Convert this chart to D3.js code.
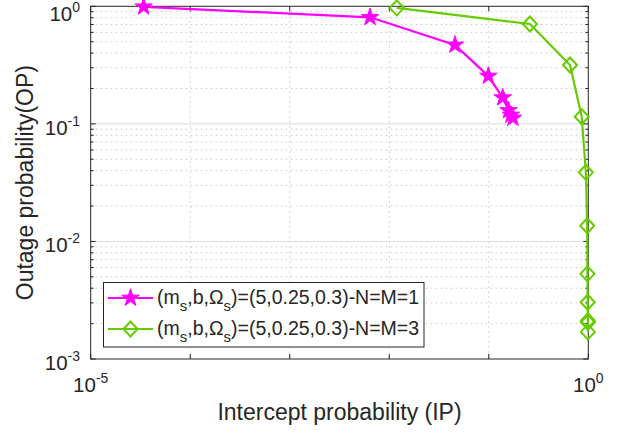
<!DOCTYPE html>
<html>
<head>
<meta charset="utf-8">
<script src="https://cdn.jsdelivr.net/npm/d3@7"></script>
<style>
html,body{margin:0;padding:0;background:#fff;}
svg{display:block;font-family:"Liberation Sans",Arial,Helvetica,sans-serif;}
</style>
</head>
<body>
<svg id="chart" width="621" height="436"></svg>
<script>
// ---- data ----
const ipSeries1 = [3.4e-5, 6.4e-3, 0.0457, 0.099, 0.138, 0.158, 0.167, 0.175];
const opSeries1 = [0.99, 0.806, 0.469, 0.255, 0.167, 0.130, 0.119, 0.112];
const ipSeries3 = [0.0119, 0.259, 0.655, 0.859, 0.945, 0.975, 0.980, 0.985, 0.990, 0.990, 0.990];
const opSeries3 = [0.97, 0.707, 0.317, 0.115, 0.0387, 0.0136, 0.0053, 0.00304, 0.00212, 0.00205, 0.0017];
const xTickExps = [-5, 0];
const xGridExps = [-5, -4, -3, -2, -1, 0];
const yTickExps = [0, -1, -2, -3];
const legendLabels = ["=(5,0.25,0.3)-N=M=1", "=(5,0.25,0.3)-N=M=3"];
const xLabel = "Intercept probability (IP)";
const yLabel = "Outage probability(OP)";

const colMag = "#ff00ff", colGreen = "#66cc00", axisCol = "#262626";

const svg = d3.select("#chart");
const L = 90.7, R = 588.3, T = 6.3, B = 359;
const x = d3.scaleLog().domain([1e-5, 1]).range([L, R]);
const y = d3.scaleLog().domain([1e-3, 1]).range([B, T]);

// grid
const g = svg.append("g");
const yMinor = [];
for (let e = -3; e < 0; e++) for (let m = 2; m <= 9; m++) yMinor.push(m * Math.pow(10, e));
g.selectAll(".ymin").data(yMinor).enter().append("line")
  .attr("x1", L).attr("x2", R).attr("y1", d => y(d)).attr("y2", d => y(d))
  .attr("stroke", "#c8c8c8").attr("stroke-width", 1).attr("stroke-dasharray", "1.5,3.5");
g.selectAll(".ymaj").data(yTickExps.filter(e => e > -3 && e < 0)).enter().append("line")
  .attr("x1", L).attr("x2", R).attr("y1", d => y(Math.pow(10, d))).attr("y2", d => y(Math.pow(10, d)))
  .attr("stroke", "#dcdcdc").attr("stroke-width", 1);
g.selectAll(".xmaj").data(xGridExps.filter(e => e > -5 && e < 0)).enter().append("line")
  .attr("x1", d => x(Math.pow(10, d))).attr("x2", d => x(Math.pow(10, d))).attr("y1", T).attr("y2", B)
  .attr("stroke", "#c8c8c8").attr("stroke-width", 1).attr("stroke-dasharray", "1.5,3.5");

// axes box & ticks
const ax = svg.append("g").attr("stroke", axisCol).attr("fill", "none");
ax.append("rect").attr("x", L).attr("y", T).attr("width", R - L).attr("height", B - T).attr("stroke-width", 1);
xGridExps.forEach(e => {
  const px = x(Math.pow(10, e));
  ax.append("line").attr("x1", px).attr("x2", px).attr("y1", B).attr("y2", B - 5);
  ax.append("line").attr("x1", px).attr("x2", px).attr("y1", T).attr("y2", T + 5);
});
yTickExps.forEach(e => {
  const py = y(Math.pow(10, e));
  ax.append("line").attr("x1", L).attr("x2", L + 5).attr("y1", py).attr("y2", py);
  ax.append("line").attr("x1", R).attr("x2", R - 5).attr("y1", py).attr("y2", py);
});
yMinor.forEach(v => {
  const py = y(v);
  ax.append("line").attr("x1", L).attr("x2", L + 3).attr("y1", py).attr("y2", py);
  ax.append("line").attr("x1", R).attr("x2", R - 3).attr("y1", py).attr("y2", py);
});

// tick labels
function powLabel(sel, e) {
  sel.append("tspan").text("10");
  sel.append("tspan").attr("dy", -9).attr("font-size", 14).text(String(e));
}
xTickExps.forEach(e => {
  const t = svg.append("text").attr("x", x(Math.pow(10, e))).attr("y", 392)
    .attr("text-anchor", "middle").attr("font-size", 20.5).attr("fill", axisCol);
  powLabel(t, e);
});
yTickExps.forEach(e => {
  const t = svg.append("text").attr("x", 80).attr("y", Math.max(20.5, y(Math.pow(10, e)) + 11))
    .attr("text-anchor", "end").attr("font-size", 20.5).attr("fill", axisCol);
  powLabel(t, e);
});

// axis labels
svg.append("text").attr("x", (L + R) / 2).attr("y", 420).attr("text-anchor", "middle")
  .attr("font-size", 23).attr("fill", axisCol).text(xLabel);
svg.append("text").attr("transform", `translate(33,${(T + B) / 2}) rotate(-90)`).attr("text-anchor", "middle")
  .attr("font-size", 23).attr("fill", axisCol).text(yLabel);

// series
const line = d3.line().x(d => x(d[0])).y(d => y(d[1]));
const d1 = ipSeries1.map((v, i) => [v, opSeries1[i]]);
const d3s = ipSeries3.map((v, i) => [v, opSeries3[i]]);
const starPath = d3.symbol(d3.symbolStar, 95)();
const diamondPath = "M0,-7.5L7,0L0,7.5L-7,0Z";

svg.append("path").datum(d1).attr("d", line).attr("fill", "none").attr("stroke", colMag).attr("stroke-width", 2.2);
svg.selectAll(".s1").data(d1).enter().append("path").attr("d", starPath)
  .attr("transform", d => `translate(${x(d[0])},${y(d[1])})`).attr("fill", colMag).attr("stroke", colMag).attr("stroke-width", 1);

svg.append("path").datum(d3s).attr("d", line).attr("fill", "none").attr("stroke", colGreen).attr("stroke-width", 2.2);
svg.selectAll(".s3").data(d3s).enter().append("path").attr("d", diamondPath)
  .attr("transform", d => `translate(${x(d[0])},${y(d[1])})`).attr("fill", "none").attr("stroke", colGreen).attr("stroke-width", 2);

// legend
const lg = svg.append("g");
lg.append("rect").attr("x", 103.5).attr("y", 282.5).attr("width", 320.5).attr("height", 64.5)
  .attr("fill", "#fff").attr("stroke", axisCol).attr("stroke-width", 1);
const rows = [
  { c: colMag, m: starPath, fill: colMag, yy: 298, label: legendLabels[0] },
  { c: colGreen, m: diamondPath, fill: "none", yy: 329, label: legendLabels[1] }
];
rows.forEach(r => {
  lg.append("line").attr("x1", 108).attr("x2", 153).attr("y1", r.yy).attr("y2", r.yy).attr("stroke", r.c).attr("stroke-width", 2.2);
  lg.append("path").attr("d", r.m).attr("transform", `translate(130.5,${r.yy})`)
    .attr("fill", r.fill).attr("stroke", r.c).attr("stroke-width", r.fill === "none" ? 2 : 1);
  const t = lg.append("text").attr("x", 157).attr("y", r.yy + 6).attr("font-size", 19.5).attr("fill", axisCol);
  t.append("tspan").text("(m");
  t.append("tspan").attr("dy", 7).attr("font-size", 15).text("s");
  t.append("tspan").attr("dy", -7).text(",b,Ω");
  t.append("tspan").attr("dy", 7).attr("font-size", 15).text("s");
  t.append("tspan").attr("dy", -7).text(")" + r.label);
});
</script>
</body>
</html>
